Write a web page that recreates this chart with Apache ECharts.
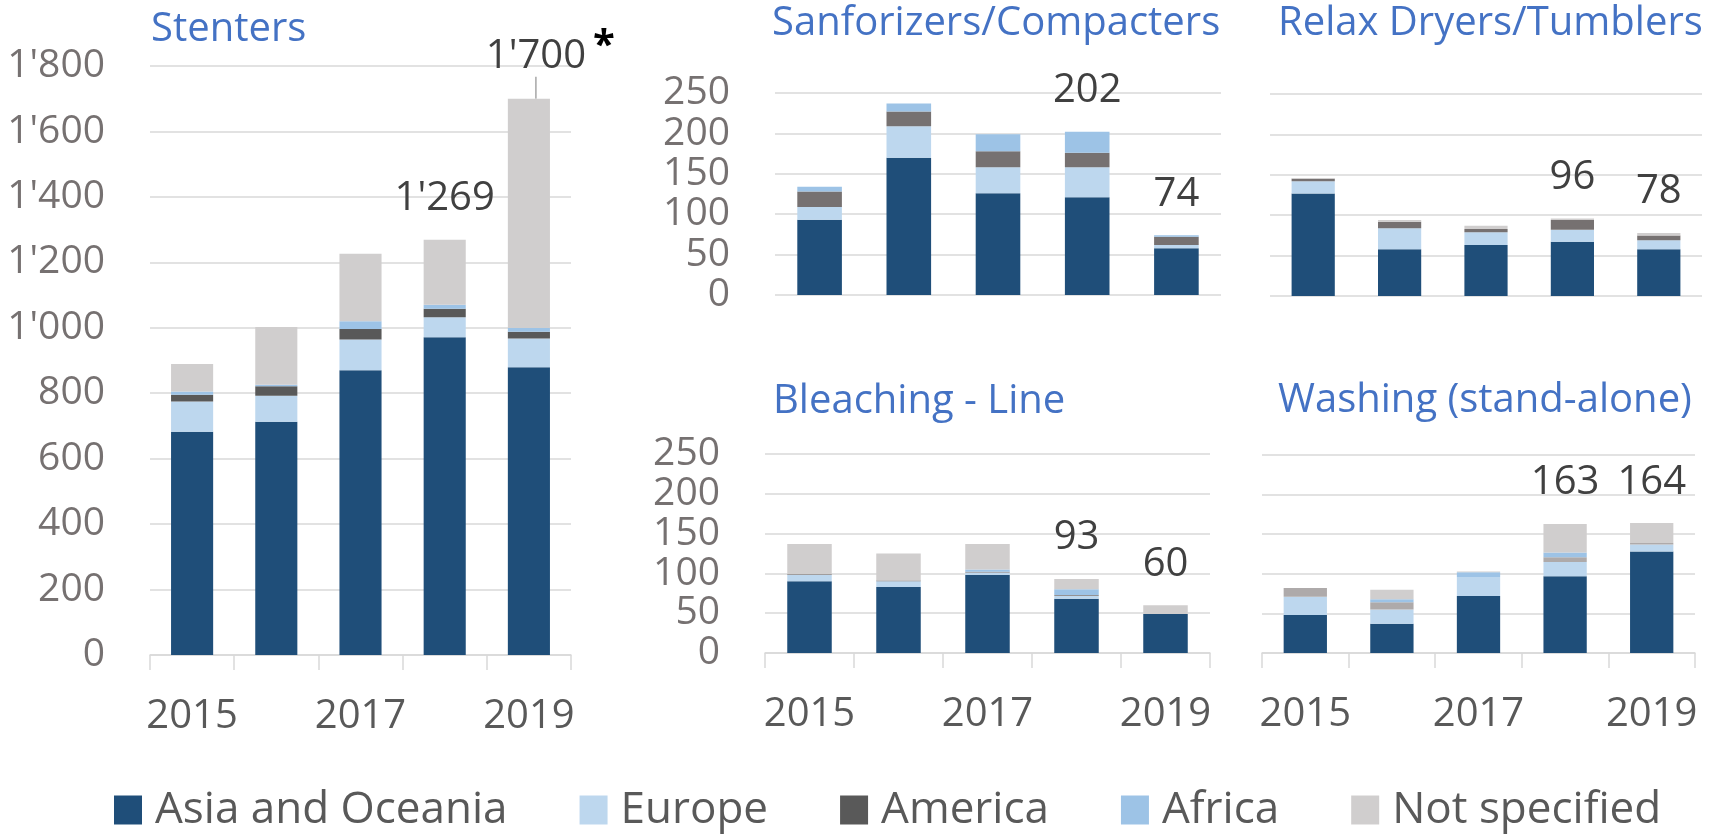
<!DOCTYPE html>
<html>
<head>
<meta charset="utf-8">
<title>Textile finishing machines by region</title>
<script src="https://cdn.jsdelivr.net/npm/echarts@6/dist/echarts.min.js"></script>
<style>
  html, body { margin: 0; padding: 0; background: #ffffff; overflow: hidden; }
  #chart { width: 1710px; height: 836px; }
</style>
</head>
<body>
<div id="chart"></div>
<script>
// ---- data -------------------------------------------------------------
const years = ['2015', '2016', '2017', '2018', '2019'];
const regions = ['Asia and Oceania', 'Europe', 'America', 'Africa', 'Not specified'];
const labelledYears = ['2018', '2019'];

const stentersAsia    = [682, 713, 870, 971, 879];
const stentersEurope  = [93, 79, 94, 61, 88];
const stentersAmerica = [20, 29, 32, 26, 21];
const stentersAfrica  = [10, 5, 24, 12, 11];
const stentersNotSpec = [84, 176, 206, 199, 701];

const sanforAsia    = [93, 170, 126, 121, 58];
const sanforEurope  = [16, 39, 32, 37, 4];
const sanforAmerica = [19, 18, 20, 18, 10];
const sanforAfrica  = [6, 10, 21, 26, 2];
const sanforNotSpec = [0, 0, 0, 0, 0];

const relaxAsia    = [127, 58, 63, 67, 58];
const relaxEurope  = [15, 26, 16, 15, 11];
const relaxAmerica = [3, 8, 4, 12, 6];
const relaxAfrica  = [0, 0, 0, 0, 0];
const relaxNotSpec = [1, 2, 4, 2, 3];

const bleachAsia    = [90, 83, 98, 68, 49];
const bleachEurope  = [8, 7, 3, 4, 0];
const bleachAmerica = [1, 1, 1, 1, 0];
const bleachAfrica  = [0, 0, 3, 7, 0];
const bleachNotSpec = [38, 34, 32, 13, 11];

const washAsia    = [48, 37, 72, 97, 128];
const washEurope  = [23, 18, 24, 18, 9];
const washAmerica = [11, 9, 0, 6, 2];
const washAfrica  = [0, 4, 6, 6, 0];
const washNotSpec = [0, 12, 1, 36, 25];

const panelTitles = ['Stenters', 'Sanforizers/Compacters', 'Relax Dryers/Tumblers',
                     'Bleaching - Line', 'Washing (stand-alone)'];
const stentersNote = '*';
const stentersMax = 1800, stentersStep = 200;
const smallMax = 250, smallStep = 50;

// ---- styling ----------------------------------------------------------
const FONT = "'Open Sans', 'Noto Sans', sans-serif";
const regionColors = ['#1F4E79', '#BDD7EE', '#595959', '#9DC3E6', '#D0CECE'];
const americaColors = ['#595959', '#767171', '#767171', '#767171', '#AEAAAA'];
const gridColor = '#D9D9D9';

const panels = [
  { stack: [stentersAsia, stentersEurope, stentersAmerica, stentersAfrica, stentersNotSpec],
    max: stentersMax, step: stentersStep, yLabels: true, xLabels: true, leader: true,
    grid: { left: 150, top: 66, width: 421, height: 589 }, titlePos: { left: 151, top: 10 } },
  { stack: [sanforAsia, sanforEurope, sanforAmerica, sanforAfrica, sanforNotSpec],
    max: smallMax, step: smallStep, yLabels: true, xLabels: false,
    grid: { left: 775, top: 93, width: 446, height: 202 }, titlePos: { left: 772, top: 4 } },
  { stack: [relaxAsia, relaxEurope, relaxAmerica, relaxAfrica, relaxNotSpec],
    max: smallMax, step: smallStep, yLabels: false, xLabels: false,
    grid: { left: 1270, top: 94, width: 432, height: 202 }, titlePos: { left: 1278, top: 4 } },
  { stack: [bleachAsia, bleachEurope, bleachAmerica, bleachAfrica, bleachNotSpec],
    max: smallMax, step: smallStep, yLabels: true, xLabels: true,
    grid: { left: 765, top: 454, width: 445, height: 199 }, titlePos: { left: 773, top: 382 } },
  { stack: [washAsia, washEurope, washAmerica, washAfrica, washNotSpec],
    max: smallMax, step: smallStep, yLabels: false, xLabels: true,
    grid: { left: 1262, top: 455, width: 433, height: 198 }, titlePos: { left: 1278, top: 381 } }
];

// thousands separator as used in the report: 1'800
function fmt(v) {
  return String(v).replace(/\B(?=(\d{3})+(?!\d))/g, "'");
}

const grid = [], xAxis = [], yAxis = [], series = [], title = [];

panels.forEach(function (p, i) {
  grid.push(Object.assign({ containLabel: false }, p.grid));

  title.push({
    text: panelTitles[i], left: p.titlePos.left, top: p.titlePos.top, padding: 0,
    textStyle: { fontFamily: FONT, fontSize: 40, lineHeight: 40, fontWeight: 'normal', color: '#4472C4' }
  });

  xAxis.push({
    type: 'category', gridIndex: i, data: years, show: p.xLabels,
    boundaryGap: true,
    axisLine: { show: true, lineStyle: { color: gridColor, width: 1.5 } },
    axisTick: { show: true, interval: 0, length: 15, lineStyle: { color: gridColor, width: 1.5 } },
    axisLabel: { interval: 1, margin: 42, fontFamily: FONT, fontSize: 40, lineHeight: 40, color: '#595959' }
  });

  yAxis.push({
    type: 'value', gridIndex: i, min: 0, max: p.max, interval: p.step,
    axisLine: { show: false }, axisTick: { show: false },
    axisLabel: { show: p.yLabels, margin: 45, fontFamily: FONT, fontSize: 39, lineHeight: 30,
                 color: '#767171', formatter: fmt, hideOverlap: false,
                 showMinLabel: true, showMaxLabel: true },
    splitLine: { show: true, lineStyle: { color: gridColor, width: 1.5 } }
  });

  const totals = years.map(function (_, k) {
    return p.stack.reduce(function (s, arr) { return s + arr[k]; }, 0);
  });
  const lastIndex = years.length - 1;

  p.stack.forEach(function (arr, r) {
    const isTop = r === p.stack.length - 1;
    const s = {
      type: 'bar', name: regions[r], stack: 'panel' + i,
      xAxisIndex: i, yAxisIndex: i, barWidth: '50%',
      itemStyle: { color: r === 2 ? americaColors[i] : regionColors[r] },
      emphasis: { disabled: true },
      label: { show: false, position: 'top', distance: 21, fontFamily: FONT, fontSize: 40,
               lineHeight: 40, color: '#404040' },
      data: arr.map(function (v, k) {
        if (!isTop || labelledYears.indexOf(years[k]) < 0) return v;
        const item = { value: v, label: { show: true, formatter: fmt(totals[k]) } };
        if (p.leader && k === lastIndex) {
          item.labelLine = { show: true, lineStyle: { color: '#A6A6A6', width: 1.5 } };
        }
        return item;
      })
    };
    if (isTop && p.leader) {
      // the last total is nudged aside and tied to its bar by a short leader
      s.labelLayout = function (params) {
        return params.dataIndex === lastIndex ? { dx: 7, dy: -1 } : {};
      };
    }
    series.push(s);
  });
});

const chart = echarts.init(document.getElementById('chart'));
chart.setOption({
  animation: false,
  backgroundColor: '#ffffff',
  title: title,
  grid: grid,
  xAxis: xAxis,
  yAxis: yAxis,
  legend: {
    data: regions, left: 114, top: 788, padding: 0,
    icon: 'rect', itemWidth: 28, itemHeight: 29, itemGap: 72,
    textStyle: { fontFamily: FONT, fontSize: 44, lineHeight: 44, color: '#595959', padding: [0, 0, 0, 8] }
  },
  graphic: [{
    // footnote marker next to the 2019 stenters total
    type: 'text', left: 593, top: 27, z: 10,
    style: { text: stentersNote, fontFamily: FONT, fontSize: 40, fontWeight: 'bold', fill: '#000000' }
  }],
  series: series
});
</script>
</body>
</html>
